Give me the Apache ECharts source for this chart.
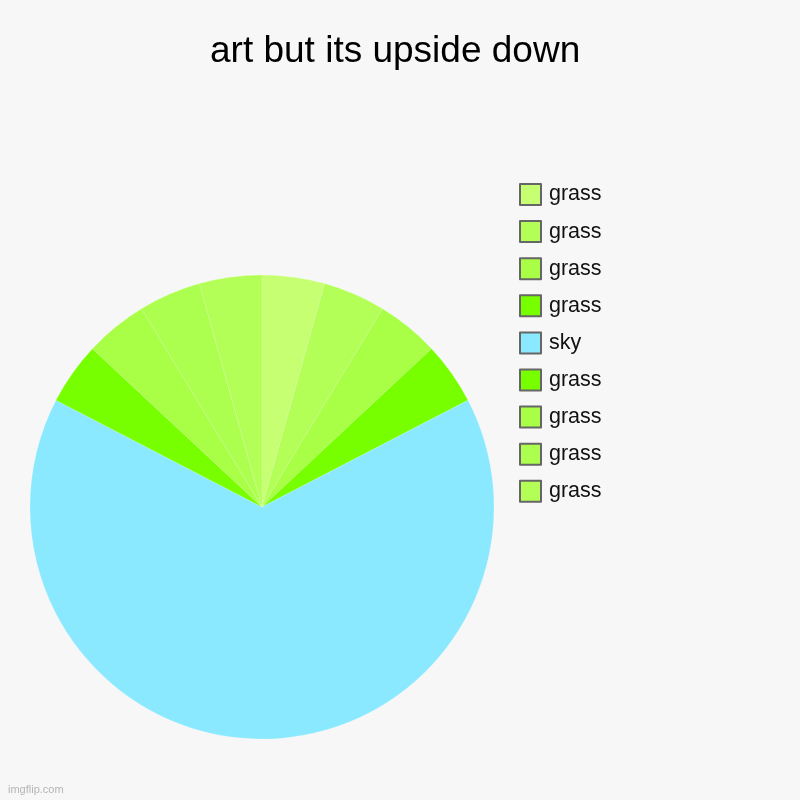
<!doctype html>
<html>
<head>
<meta charset="UTF-8">
<title>art but its upside down</title>
<script src="https://cdn.jsdelivr.net/npm/echarts@6/dist/echarts.min.js"></script>
<style>
  html, body { margin: 0; padding: 0; background: #f7f7f7; }
  #main { width: 800px; height: 800px; }
</style>
</head>
<body>
<div id="main"></div>
<script>
// slice labels, in legend order (clockwise from 12 o'clock)
var labels = ['grass', 'grass', 'grass', 'grass', 'sky', 'grass', 'grass', 'grass', 'grass'];
var values = [1, 1, 1, 1, 15, 1, 1, 1, 1];
var colors = ['#c7ff73', '#b3ff57', '#a8ff45', '#77ff00', '#8ae9ff', '#77ff00', '#a8ff45', '#adff4f', '#b3ff57'];

// legend merges equal names, so give each slice a unique key and show the label only
var pieData = labels.map(function (l, i) {
    return { name: l + '#' + i, value: values[i], itemStyle: { color: colors[i] } };
});

var chart = echarts.init(document.getElementById('main'));
chart.setOption({
    backgroundColor: '#f7f7f7',
    animation: false,
    title: {
        text: 'art but its upside down',
        left: 205,
        top: 28,
        textStyle: { fontFamily: 'Liberation Sans', fontSize: 37, fontWeight: 'normal', color: '#000' }
    },
    legend: {
        orient: 'vertical',
        left: 514,
        top: 178,
        icon: 'rect',
        itemWidth: 21,
        itemHeight: 21,
        itemGap: 14.1,
        selectedMode: false,
        itemStyle: { borderColor: '#666', borderWidth: 2 },
        formatter: function (n) { return n.split('#')[0]; },
        textStyle: { fontFamily: 'Liberation Sans', fontSize: 21.5, color: '#111', padding: [0, 0, 0, 3] },
        data: pieData.map(function (d) { return d.name; })
    },
    graphic: [{
        type: 'text',
        left: 8,
        top: 784,
        style: { text: 'imgflip.com', fill: '#b5b5b5', font: '11px "Liberation Sans"' }
    }],
    series: [{
        type: 'pie',
        center: [262, 507],
        radius: [0, 232],
        startAngle: 90,
        clockwise: true,
        label: { show: false },
        labelLine: { show: false },
        emphasis: { disabled: true },
        itemStyle: { borderWidth: 0.5, borderColor: 'rgba(255,255,255,0.25)' },
        data: pieData
    }]
});
</script>
</body>
</html>
